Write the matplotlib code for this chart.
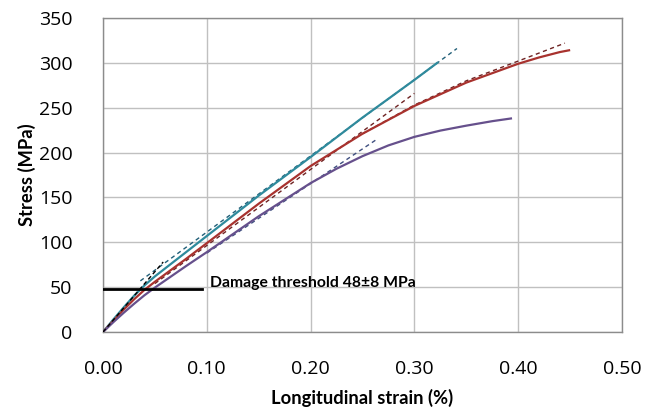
import matplotlib
matplotlib.use("Agg")
import matplotlib.pyplot as plt

# Data
teal_strain = [0, 0.01, 0.02, 0.03, 0.04, 0.05, 0.06, 0.08, 0.10, 0.15, 0.20, 0.25, 0.30, 0.322]
teal_stress = [0, 14, 27.5, 40.5, 52, 62, 71, 89, 107, 152, 195, 239, 281, 300]

red_strain = [0, 0.01, 0.02, 0.03, 0.04, 0.05, 0.06, 0.08, 0.10, 0.15, 0.20, 0.25, 0.30, 0.35,
              0.40, 0.42, 0.44, 0.449]
red_stress = [0, 12.5, 25, 36.5, 47, 56, 64.5, 81.5, 99, 143, 185, 221, 252, 278,
              299, 306, 312, 314]

purple_strain = [0, 0.01, 0.02, 0.03, 0.04, 0.05, 0.06, 0.08, 0.10, 0.15, 0.20, 0.225, 0.25,
                 0.275, 0.30, 0.325, 0.35, 0.375, 0.393]
purple_stress = [0, 11, 21.5, 31.5, 41, 49.5, 57.5, 73.5, 89, 129, 166, 182, 196,
                 208, 217.5, 224.5, 230, 235, 238]

# Fit (dashed) lines
init_fit_strain = [0, 0.058]
init_fit_stress = [0, 78]
teal_fit_strain = [0.036, 0.341]
teal_fit_stress = [57, 316]
red_fit1_strain = [0.05, 0.30]
red_fit1_stress = [54, 266]
red_fit2_strain = [0.25, 0.30, 0.35, 0.40, 0.445]
red_fit2_stress = [221, 253, 280, 302, 322]
purple_fit_strain = [0.10, 0.265]
purple_fit_stress = [88, 215.7]

threshold_value = 48
threshold_strain = [0, 0.095]
threshold_text = "Damage threshold 48±8 MPa"

x_ticks = [0.0, 0.1, 0.2, 0.3, 0.4, 0.5]
y_ticks = [0, 50, 100, 150, 200, 250, 300, 350]

plt.rcParams['font.family'] = ['Lato', 'DejaVu Sans']

fig = plt.figure(figsize=(6.6, 4.16), dpi=100)
ax = fig.add_axes([103/660, 1-332/416, (622-103)/660, (332-18)/416])

c_teal = '#2f8a9c'
c_red = '#a8322e'
c_purple = '#66508c'

ax.plot(teal_strain, teal_stress, color=c_teal, lw=1.6, zorder=3)
ax.plot(red_strain, red_stress, color=c_red, lw=1.6, zorder=3)
ax.plot(purple_strain, purple_stress, color=c_purple, lw=1.6, zorder=3)

ax.plot(init_fit_strain, init_fit_stress, color='black', lw=1.0, ls=(0, (3, 2)), zorder=4)
ax.plot(teal_fit_strain, teal_fit_stress, color='#215f78', lw=1.0, ls=(0, (3, 2.5)), zorder=2)
ax.plot(red_fit1_strain, red_fit1_stress, color='#6e2323', lw=1.0, ls=(0, (3, 2.5)), zorder=2)
ax.plot(red_fit2_strain, red_fit2_stress, color='#6e2323', lw=1.0, ls=(0, (3, 2.5)), zorder=2)
ax.plot(purple_fit_strain, purple_fit_stress, color='#3f4f80', lw=1.0, ls=(0, (3, 2.5)), zorder=2)

ax.plot(threshold_strain, [threshold_value, threshold_value], color='black', lw=2, zorder=5)
ax.text(0.103, threshold_value + 7, threshold_text, fontsize=11.3, fontweight='bold',
        ha='left', va='center', zorder=6)

ax.set_xlim(0, 0.5)
ax.set_ylim(0, 350)
ax.set_xticks(x_ticks)
ax.set_xticklabels([f"{v:.2f}" for v in x_ticks])
ax.set_yticks(y_ticks)
ax.set_yticklabels([str(v) for v in y_ticks])
for lab in ax.get_xticklabels() + ax.get_yticklabels():
    lab.set_fontfamily(['Open Sans', 'DejaVu Sans'])
    lab.set_fontsize(14)
ax.tick_params(axis='both', length=0)
ax.tick_params(axis='x', pad=20)
ax.tick_params(axis='y', pad=22)

ax.grid(True, color='#c0c0c0', lw=1.0)
ax.set_axisbelow(True)
for s in ax.spines.values():
    s.set_color('#8c8c8c')
    s.set_linewidth(1.0)

ax.set_xlabel('Longitudinal strain (%)', fontsize=13.2, fontweight='bold', labelpad=8)
ax.set_ylabel('Stress (MPa)', fontsize=13.2, fontweight='bold', labelpad=2)

fig.savefig('out.png', dpi=100)
